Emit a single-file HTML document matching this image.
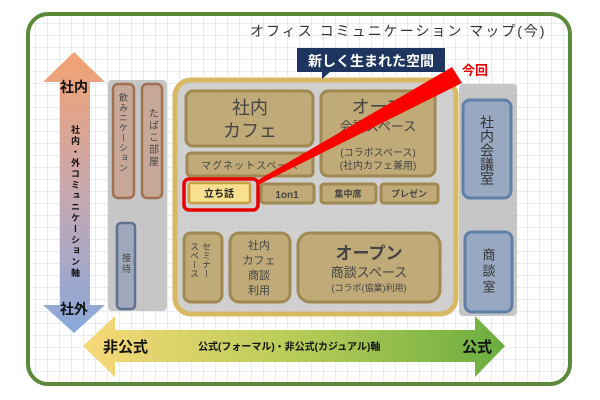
<!DOCTYPE html>
<html><head><meta charset="utf-8"><style>
body{margin:0;width:600px;height:400px;background:#fff;overflow:hidden}
svg{display:block}
text{font-family:"Liberation Sans","Noto Sans CJK JP",sans-serif}
</style></head><body>
<svg width="600" height="400" viewBox="0 0 600 400">
<defs>
<pattern id="g" width="12" height="12" patternUnits="userSpaceOnUse">
<path d="M12 0V12M0 12H12" stroke="#c4d2ec" stroke-width="0.8" fill="none"/>
</pattern>
<linearGradient id="v" x1="0" y1="0" x2="0" y2="1">
<stop offset="0" stop-color="#f2a270"/><stop offset="0.5" stop-color="#c8a8b0"/><stop offset="1" stop-color="#88a8dc"/></linearGradient>
<linearGradient id="h" x1="0" y1="0" x2="1" y2="0">
<stop offset="0" stop-color="#f8d878"/><stop offset="0.5" stop-color="#b8cc58"/><stop offset="1" stop-color="#6aae40"/></linearGradient>
</defs>
<rect x="28" y="14" width="542" height="370" rx="20" fill="url(#g)" stroke="#5a8a3a" stroke-width="4"/>
<text x="250" y="36" font-size="14" fill="#333" font-family="'Noto Serif CJK SC',serif" letter-spacing="2">オフィス コミュニケーション マップ(今)</text>
<!-- vertical arrow -->
<polygon points="74,52 105,82 90,82 90,305 105,305 74,333 43,305 60,305 60,82 43,82" fill="url(#v)"/>
<text x="74" y="92" font-size="14" font-weight="bold" text-anchor="middle" fill="#111">社内</text>
<text x="74" y="314" font-size="14" font-weight="bold" text-anchor="middle" fill="#111">社外</text>
<text x="75" y="125" font-size="9" font-weight="bold" fill="#111" writing-mode="tb" letter-spacing="2" style="glyph-orientation-vertical:0">社内・外コミュニケーション軸</text>
<!-- horizontal arrow -->
<polygon points="83,346 115,316 115,330 475,330 475,316 505,346 475,377 475,362 115,362 115,377" fill="url(#h)"/>
<text x="103" y="352" font-size="15" font-weight="bold" fill="#111">非公式</text>
<text x="198" y="350" font-size="10" font-weight="bold" fill="#111">公式(フォーマル)・非公式(カジュアル)軸</text>
<text x="462" y="352" font-size="15" font-weight="bold" fill="#111">公式</text>
<!-- left gray column -->
<rect x="108" y="80" width="59" height="231" rx="4" fill="#bcbcbc" opacity="0.85"/>
<rect x="113" y="84" width="21" height="114" rx="5" fill="#c8a898" stroke="#a07050" stroke-width="2.5"/>
<rect x="142" y="84" width="20" height="114" rx="5" fill="#c8a898" stroke="#a07050" stroke-width="2.5"/>
<text x="123" y="93" font-size="9" fill="#444" writing-mode="tb" letter-spacing="1" style="glyph-orientation-vertical:0">飲みニケーション</text>
<text x="152" y="108" font-size="10" fill="#444" writing-mode="tb" letter-spacing="2" style="glyph-orientation-vertical:0">たばこ部屋</text>
<rect x="117" y="223" width="18" height="86" rx="4" fill="#a0a8bc" stroke="#607090" stroke-width="2.5"/>
<text x="126" y="253" font-size="9" fill="#444" writing-mode="tb" letter-spacing="2" style="glyph-orientation-vertical:0">接待</text>
<!-- right gray column -->
<rect x="459" y="84" width="58" height="232" rx="4" fill="#bcbcbc" opacity="0.85"/>
<rect x="463" y="100" width="48" height="98" rx="7" fill="#98a8c0" stroke="#6080a8" stroke-width="3"/>
<text x="487" y="115" font-size="14" fill="#333" writing-mode="tb" style="glyph-orientation-vertical:0">社内会議室</text>
<rect x="465" y="232" width="47" height="80" rx="7" fill="#98a8c0" stroke="#6080a8" stroke-width="3"/>
<text x="488" y="248" font-size="13" fill="#333" writing-mode="tb" letter-spacing="3" style="glyph-orientation-vertical:0">商談室</text>
<!-- gold frame -->
<rect x="175" y="80" width="281" height="234" rx="16" fill="#c4c4c4" fill-opacity="0.8" stroke="#d8b860" stroke-width="5"/>
<g fill="#c0aa78" stroke="#a08850" stroke-width="3">
<rect x="186" y="91" width="127" height="55" rx="7"/>
<rect x="321" y="91" width="114" height="85" rx="7"/>
<rect x="187" y="153" width="126" height="23" rx="4"/>
<rect x="261" y="184" width="53" height="19" rx="3"/>
<rect x="321" y="184" width="55" height="19" rx="3"/>
<rect x="381" y="184" width="57" height="19" rx="3"/>
<rect x="184" y="233" width="38" height="69" rx="7"/>
<rect x="230" y="233" width="60" height="69" rx="9"/>
<rect x="298" y="233" width="142" height="69" rx="12"/>
</g>
<g fill="#444" text-anchor="middle">
<text x="250" y="114" font-size="18">社内</text>
<text x="250" y="137" font-size="18">カフェ</text>
<text x="378" y="113" font-size="18">オープ</text>
<text x="378" y="131" font-size="13">会議スペース</text>
<text x="378" y="156" font-size="10">(コラボスペース)</text>
<text x="378" y="169" font-size="10">(社内カフェ兼用)</text>
<text x="250" y="169" font-size="10" letter-spacing="1">マグネットスペース</text>
<text x="287" y="198" font-size="10" font-weight="bold">1on1</text>
<text x="348" y="197" font-size="9" font-weight="bold">集中席</text>
<text x="409" y="197" font-size="9" font-weight="bold">プレゼン</text>
<text x="259" y="249" font-size="11">社内</text>
<text x="259" y="264" font-size="11">カフェ</text>
<text x="259" y="279" font-size="11">商談</text>
<text x="259" y="294" font-size="11">利用</text>
<text x="369" y="259" font-size="17" font-weight="bold">オープン</text>
<text x="369" y="277" font-size="13">商談スペース</text>
<text x="369" y="291" font-size="9">(コラボ(協業)利用)</text>
</g>
<text x="206" y="242" font-size="9" fill="#444" writing-mode="tb" style="glyph-orientation-vertical:0">セミナー</text>
<text x="194" y="242" font-size="9" fill="#444" writing-mode="tb" style="glyph-orientation-vertical:0">スペース</text>
<!-- 立ち話 -->
<rect x="184" y="179" width="74" height="31" rx="5" fill="none" stroke="#e80000" stroke-width="3.5"/>
<rect x="189" y="183" width="61" height="20" rx="2" fill="#f8e090" stroke="#c8a040" stroke-width="2.5"/>
<text x="219" y="197" font-size="10" font-weight="bold" text-anchor="middle" fill="#222">立ち話</text>
<!-- beam -->
<polygon points="258,180 452,67 462,83 258,185" fill="#ff0000"/>
<!-- banner -->
<polygon points="297,48 445,48 445,72 330,72 322,79 322,72 297,72" fill="#1e3560"/>
<text x="371" y="66" font-size="14" font-weight="bold" text-anchor="middle" fill="#fff">新しく生まれた空間</text>
<text x="462" y="75" font-size="13" font-weight="bold" fill="#e80000">今回</text>
</svg>
</body></html>
